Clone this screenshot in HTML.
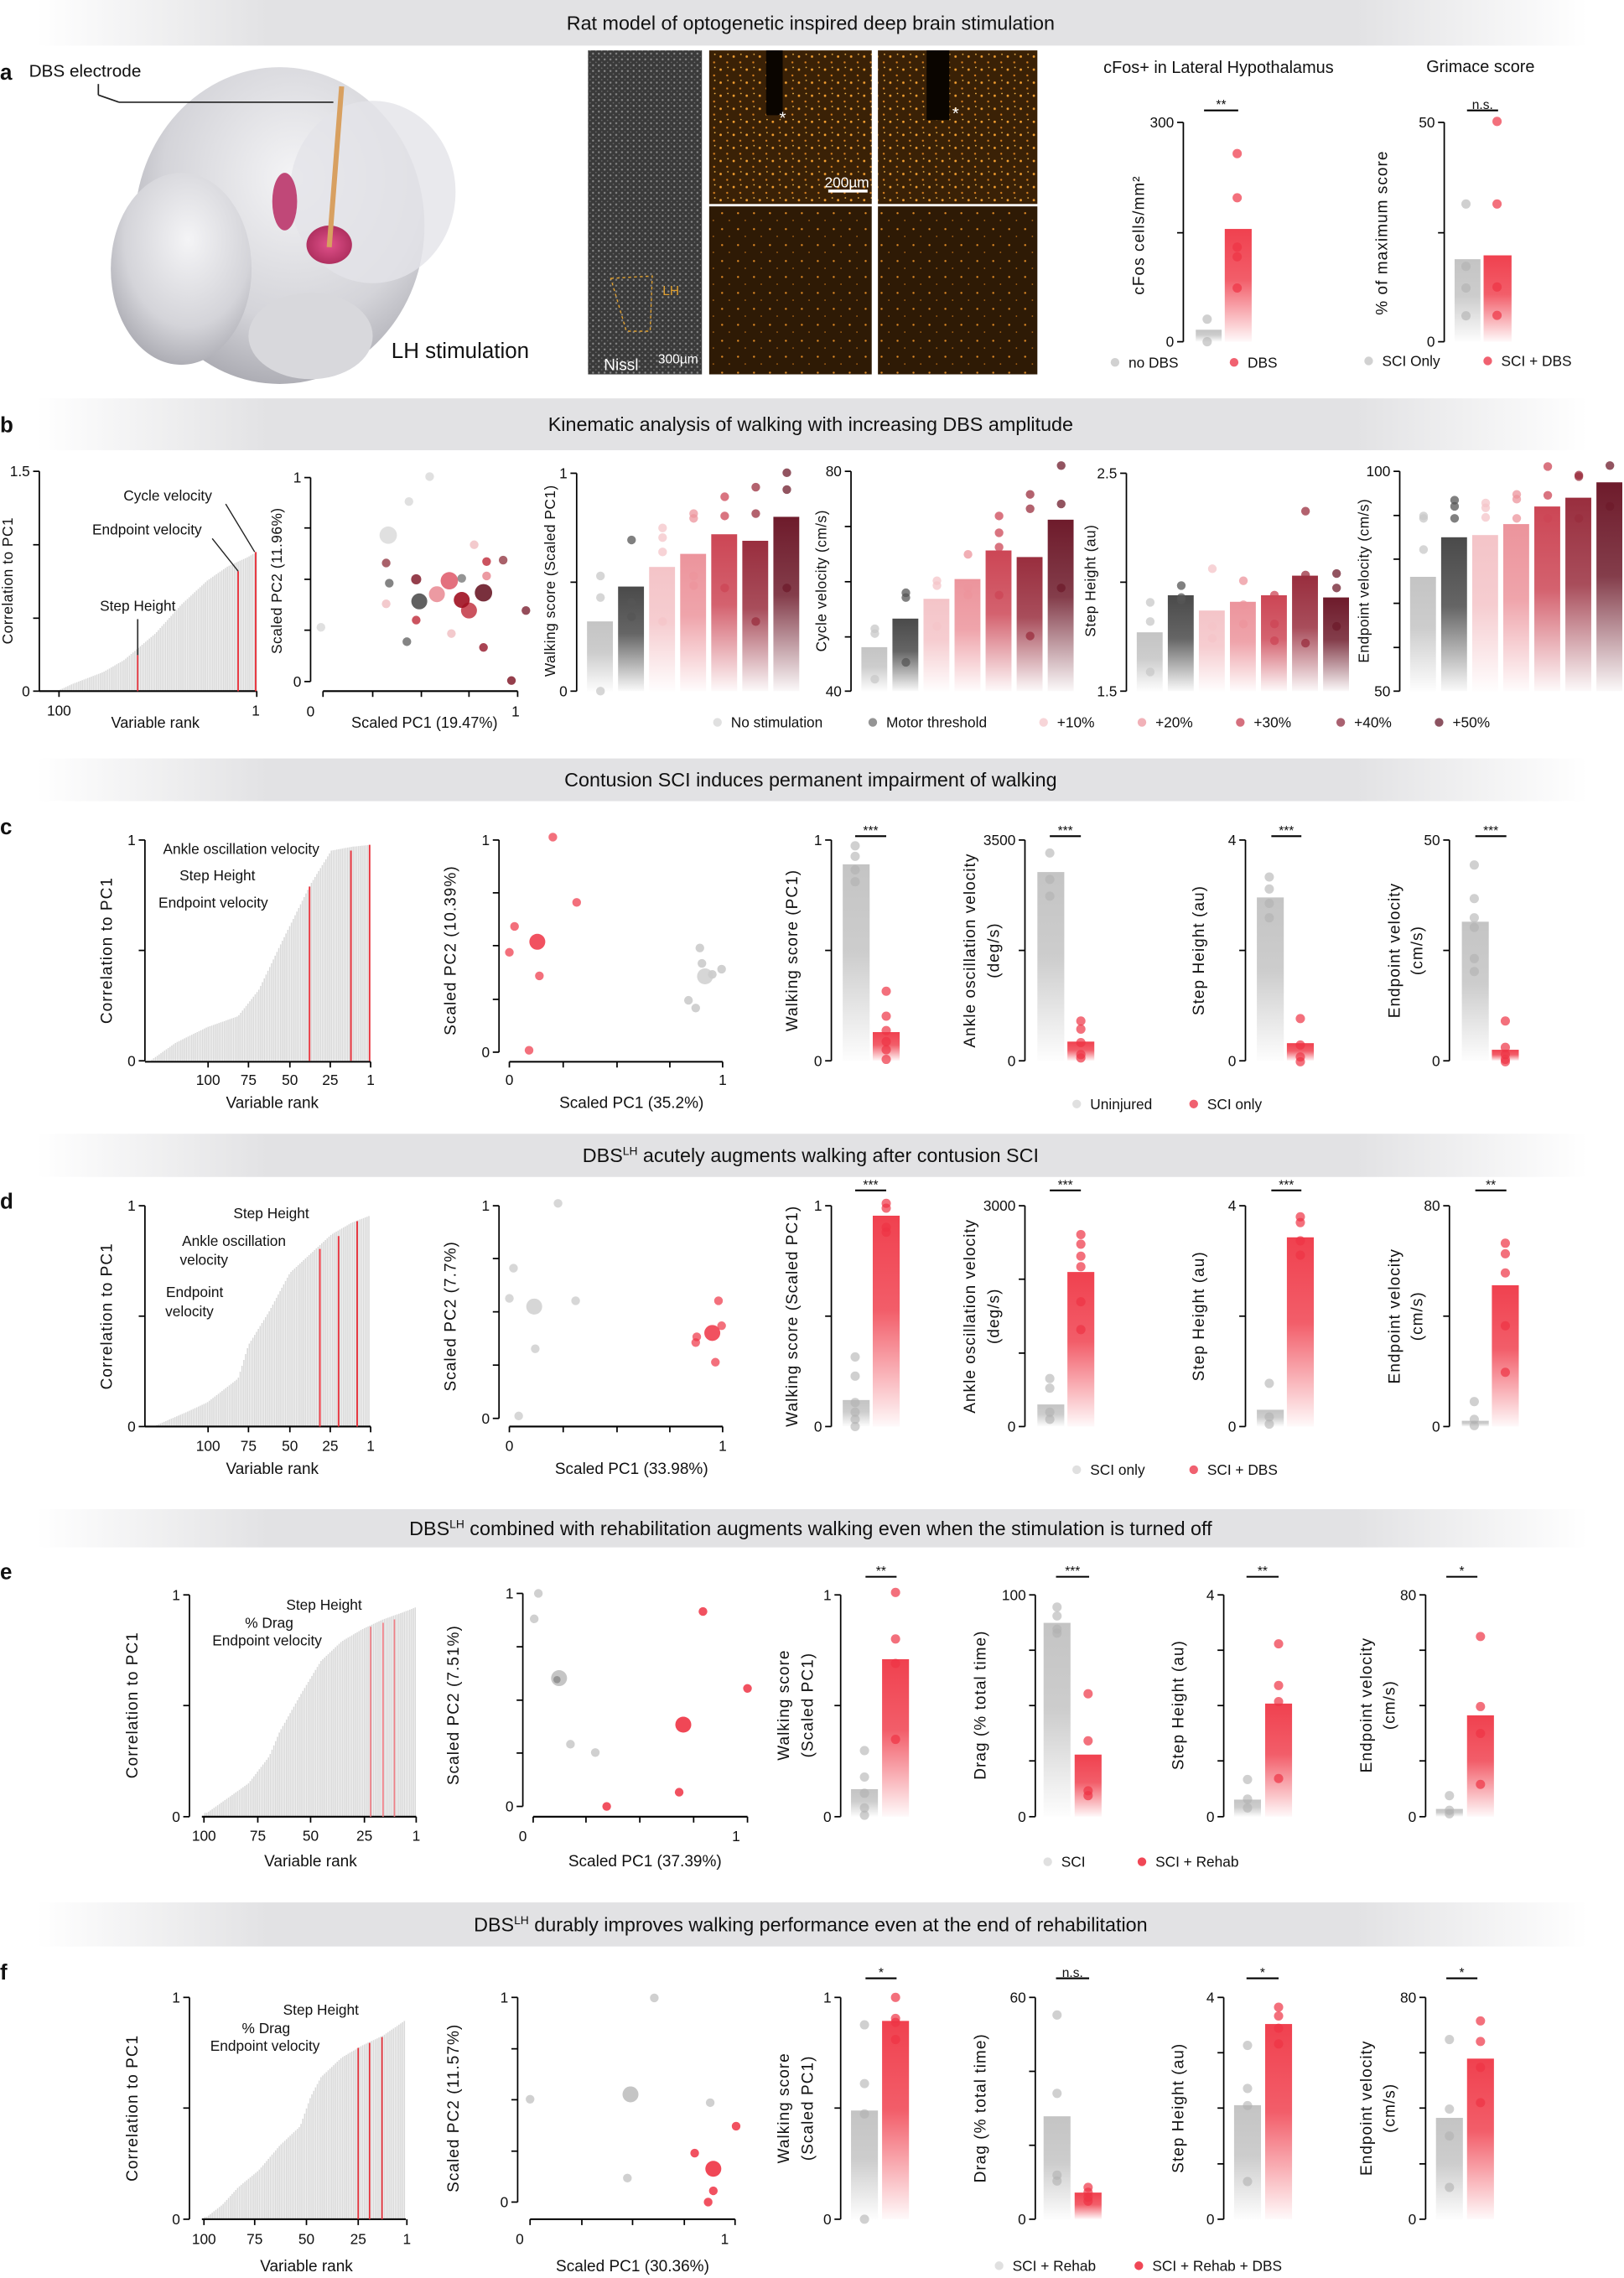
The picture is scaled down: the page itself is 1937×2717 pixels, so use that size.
<!DOCTYPE html>
<html><head><meta charset="utf-8"><style>
html,body{margin:0;padding:0;background:#fff;width:1937px;height:2717px;overflow:hidden}
svg{display:block}
text{font-family:"Liberation Sans",Arial,sans-serif;fill:#111}
</style></head><body>
<svg id="s" width="1937" height="2717" viewBox="0 0 1120 1571" xmlns="http://www.w3.org/2000/svg">
<defs>
<linearGradient id="band" x1="0" x2="1" y1="0" y2="0">
<stop offset="0" stop-color="#e2e2e4" stop-opacity="0"/><stop offset="0.15" stop-color="#e2e2e4"/><stop offset="0.85" stop-color="#e2e2e4"/><stop offset="1" stop-color="#e2e2e4" stop-opacity="0"/></linearGradient>
<radialGradient id="brain" cx="0.55" cy="0.35" r="0.75"><stop offset="0" stop-color="#f4f4f6"/><stop offset="0.6" stop-color="#d4d4d9"/><stop offset="1" stop-color="#9c9ca4"/></radialGradient>
<radialGradient id="pink" cx="0.5" cy="0.5" r="0.5"><stop offset="0" stop-color="#e0508a"/><stop offset="1" stop-color="#b03060"/></radialGradient>
<pattern id="o1" width="9" height="9" patternUnits="userSpaceOnUse"><rect width="9" height="9" fill="#3a2106"/><circle cx="2" cy="3" r="0.8" fill="#f5a030"/><circle cx="6.5" cy="7" r="0.7" fill="#d88020"/><circle cx="7" cy="1.5" r="0.5" fill="#ffc050"/></pattern>
<pattern id="o2" width="11" height="11" patternUnits="userSpaceOnUse"><rect width="11" height="11" fill="#2e1a05"/><circle cx="3" cy="4" r="0.7" fill="#e08a25"/><circle cx="8" cy="9" r="0.5" fill="#c07018"/></pattern>
<pattern id="ni" width="4" height="4" patternUnits="userSpaceOnUse"><rect width="4" height="4" fill="#3a3a3a"/><circle cx="1" cy="1" r="0.7" fill="#8a8a8a"/><circle cx="3" cy="3" r="0.5" fill="#6a6a6a"/></pattern>
</defs>
<g id="g"></g>
</svg>
<script>
const COL={gGray:'#c4c4c4',gDark:'#4a4a4a',gP1:'#f4c4c8',gP2:'#ec949c',gP3:'#cc4655',gP4:'#992e3e',gP5:'#6e1b2b',gRed:'#f0414f'};
let defs='';
for(const k in COL){defs+=`<linearGradient id="${k}" x1="0" x2="0" y1="0" y2="1"><stop offset="0" stop-color="${COL[k]}"/><stop offset="0.45" stop-color="${COL[k]}" stop-opacity="0.85"/><stop offset="1" stop-color="${COL[k]}" stop-opacity="0.03"/></linearGradient>`;}
document.querySelector('defs').insertAdjacentHTML('beforeend',defs);
const S=[null,{oy:0,sy:0.331},{oy:520.4,sy:0.331},{oy:1040.8,sy:0.3377}];
let z=1;
const X=x=>x*0.714, Y=y=>S[z].oy+y*S[z].sy;
let out='';
function raw(s){out+=s}
function line(x1,y1,x2,y2,c,w){out+=`<line x1="${X(x1)}" y1="${Y(y1)}" x2="${X(x2)}" y2="${Y(y2)}" stroke="${c||'#000'}" stroke-width="${w||0.8}"/>`}
function dot(x,y,c,r,op){out+=`<circle cx="${X(x)}" cy="${Y(y)}" r="${r||3.2}" fill="${c}" fill-opacity="${op==null?0.7:op}"/>`}
function bar(x,w,top,bot,g){out+=`<rect x="${X(x)}" y="${Y(top)}" width="${X(w)}" height="${Y(bot)-Y(top)}" fill="url(#${g})"/>`}
function T(x,y,s,o){o=o||{};const fs=o.fs||10.5;const a=o.a||'middle';
 if(o.rot){out+=`<text transform="translate(${X(x)},${Y(y)}) rotate(-90)" text-anchor="middle" font-size="${fs}" letter-spacing="${o.ls==null?0.6:o.ls}" ${o.fill?'style="fill:'+o.fill+'"':''}>${s}</text>`;}
 else out+=`<text x="${X(x)}" y="${Y(y)+fs*0.35}" text-anchor="${a}" font-size="${fs}" ${o.fw?'font-weight="bold"':''} ${o.fill?'style="fill:'+o.fill+'"':''}>${s}</text>`;}
function yaxis(x,t,labs){line(x,t[0],x,t[t.length-1],'#000',1);t.forEach(v=>line(x-6,v,x,v,'#000',1));
 if(labs){labs.forEach(l=>T(x-9,l[0],l[1],{a:'end',fs:10}));}}
function xaxis(y,x0,x1,t){line(x0,y,x1,y,'#000',1.2);t.forEach(v=>line(v,y,v,y+12,'#000',1));}
function interp(p,x){if(x<=p[0][0])return p[0][1];for(let i=1;i<p.length;i++){if(x<=p[i][0]){const f=(x-p[i-1][0])/(p[i][0]-p[i-1][0]);return p[i-1][1]+f*(p[i][1]-p[i-1][1]);}}return p[p.length-1][1];}
function rank(p,x0,x1,bot){for(let xd=X(x0);xd<=X(x1)+0.01;xd+=1.25){const zx=xd/0.714;const yy=interp(p,zx);out+=`<line x1="${xd}" y1="${Y(bot)}" x2="${xd}" y2="${Y(yy)}" stroke="#d9d9d9" stroke-width="0.9"/>`;}}
function band(y0,y1,txt){out+=`<rect x="25" y="${Y(y0)}" width="1070" height="${Y(y1)-Y(y0)}" fill="url(#band)"/>`;T(783,(y0+y1)/2,txt,{fs:13.5});}
function sig(x0,x1,y,s){line(x0,y,x1,y,'#000',1.2);T((x0+x1)/2,y-12,s,{fs:9});}
function legend(y,items){items.forEach(it=>{dot(it[0],y,it[2],3,0.9);T(it[0]+13,y,it[1],{a:'start',fs:10});});}
const GR='#b0b0b0',RD='#ee3344';
function pairBars(bot,range,specs){specs.forEach(s=>{bar(s.x,26,bot-s.g*range,bot,'gGray');bar(s.x+29,26,bot-s.r*range,bot,'gRed');
 s.gd.forEach(v=>dot(s.x+12,v,GR,3.2,0.6));s.rd.forEach(v=>dot(s.x+42,v,RD,3.2,0.7));});}

/* ===== PANEL A ===== */
z=1;
band(0,95,'Rat model of optogenetic inspired deep brain stimulation');
T(0,150,'a',{a:'start',fs:15,fw:1});
T(28,147,'DBS electrode',{a:'start',fs:12});
raw(`<ellipse cx="${X(270)}" cy="${Y(470)}" rx="${X(140)}" ry="${Y(330)}" fill="url(#brain)"/>`);
raw(`<ellipse cx="${X(175)}" cy="${Y(560)}" rx="${X(68)}" ry="${Y(200)}" fill="url(#brain)"/>`);
raw(`<ellipse cx="${X(360)}" cy="${Y(400)}" rx="${X(80)}" ry="${Y(190)}" fill="#e4e4e8" opacity="0.8"/>`);
raw(`<ellipse cx="${X(300)}" cy="${Y(700)}" rx="${X(60)}" ry="${Y(90)}" fill="#d8d8dc"/>`);
raw(`<ellipse cx="${X(275)}" cy="${Y(420)}" rx="${X(12)}" ry="${Y(60)}" fill="#c04878"/>`);
raw(`<ellipse cx="${X(318)}" cy="${Y(510)}" rx="${X(22)}" ry="${Y(40)}" fill="url(#pink)"/>`);
line(95,175,95,198,'#222',1);line(95,198,115,213,'#222',1);line(115,213,322,213,'#222',1);
line(330,180,318,515,'#d8a060',3.5);
T(378,730,'LH stimulation',{a:'start',fs:15});
raw(`<rect x="${X(568)}" y="${Y(105)}" width="${X(110)}" height="${Y(780)-Y(105)}" fill="url(#ni)"/>`);
raw(`<rect x="${X(685)}" y="${Y(105)}" width="${X(157)}" height="${Y(425)-Y(105)}" fill="url(#o1)"/>`);
raw(`<rect x="${X(848)}" y="${Y(105)}" width="${X(154)}" height="${Y(425)-Y(105)}" fill="url(#o1)"/>`);
raw(`<rect x="${X(685)}" y="${Y(430)}" width="${X(157)}" height="${Y(780)-Y(430)}" fill="url(#o2)"/>`);
raw(`<rect x="${X(848)}" y="${Y(430)}" width="${X(154)}" height="${Y(780)-Y(430)}" fill="url(#o2)"/>`);
raw(`<rect x="${X(740)}" y="${Y(105)}" width="${X(16)}" height="${Y(240)-Y(105)}" fill="#0a0500"/>`);
raw(`<rect x="${X(895)}" y="${Y(105)}" width="${X(22)}" height="${Y(250)-Y(105)}" fill="#0a0500"/>`);
T(756,245,'*',{fs:12,fill:'#fff'});T(923,235,'*',{fs:12,fill:'#fff'});
T(818,380,'200µm',{fs:10,fill:'#fff'});line(800,398,838,398,'#fff',2);
T(600,760,'Nissl',{fs:11,fill:'#fff'});T(655,748,'300µm',{fs:9,fill:'#fff'});
T(648,605,'LH',{fs:9,fill:'#e0a030'});
raw(`<path d="M${X(590)},${Y(580)} L${X(630)},${Y(575)} L${X(628)},${Y(690)} L${X(605)},${Y(690)} Z" fill="none" stroke="#e0a030" stroke-width="0.8" stroke-dasharray="2,2"/>`);
T(1177,140,'cFos+ in Lateral Hypothalamus',{fs:11.5});
yaxis(1143,[255,485,712],[[255,'300'],[712,'0']]);
bar(1155,25,687,712,'gGray');bar(1183,26,477,712,'gRed');
[665,712].forEach(v=>dot(1166,v,GR,3.2,0.6));[320,412,515,535,600].forEach(v=>dot(1195,v,RD,3.2,0.7));
sig(1163,1196,230,'**');
T(1105,490,'cFos cells/mm²',{rot:1,fs:11});
legend(755,[[1077,'no DBS','#ccc'],[1192,'DBS','#ee5060']]);
T(1430,138,'Grimace score',{fs:11.5});
yaxis(1395,[255,485,712],[[255,'50'],[712,'0']]);
bar(1405,25,540,712,'gGray');bar(1433,27,532,712,'gRed');
[425,555,600,658].forEach(v=>dot(1416,v,GR,3.2,0.6));[253,425,598,657].forEach(v=>dot(1446,v,RD,3.2,0.7));
sig(1417,1447,230,'n.s.');
T(1340,485,'% of maximum score',{rot:1,fs:11});
legend(752,[[1322,'SCI Only','#ccc'],[1437,'SCI + DBS','#ee5060']]);

/* ===== PANEL B ===== */
band(830,938,'Kinematic analysis of walking with increasing DBS amplitude');
T(0,885,'b',{a:'start',fs:15,fw:1});
rank([[55,1440],[70,1425],[100,1400],[120,1375],[150,1320],[175,1260],[200,1210],[220,1180],[240,1160],[248,1150]],55,248,1440);
yaxis(38,[982,1135,1288,1440],[[982,'1.5'],[1440,'0']]);
xaxis(1440,38,248,[57,248]);
line(133,1290,133,1365,'#333',1);line(133,1365,133,1440,'#e8323c',1);
line(230,1190,230,1440,'#e8323c',1.1);line(247,1150,247,1440,'#e8323c',1.1);
line(218,1050,246,1150,'#222',0.8);line(205,1122,230,1190,'#222',0.8);
T(162,1032,'Cycle velocity',{fs:10});T(142,1103,'Endpoint velocity',{fs:10});T(133,1262,'Step Height',{fs:10});
T(57,1480,'100',{fs:10});T(247,1480,'1',{fs:10});T(150,1505,'Variable rank',{fs:10.5});
T(12,1210,'Correlation to PC1',{rot:1,fs:10,ls:0.3});
yaxis(300,[995,1100,1207,1313,1420],[[995,'1'],[1420,'0']]);
xaxis(1440,312,500,[312,360,407,453,500]);
T(300,1482,'0',{fs:10});T(498,1482,'1',{fs:10});T(410,1505,'Scaled PC1 (19.47%)',{fs:10.5});
T(272,1210,'Scaled PC2 (11.96%)',{rot:1,fs:10,ls:0.3});
[[415,993,3,'#ddd'],[395,1045,3,'#ddd'],[375,1115,6,'#ddd'],[310,1307,3,'#ddd'],[373,1173,3,'#a0505a'],[376,1215,3,'#777'],[373,1258,3,'#f2c4c8'],[402,1207,3.5,'#8a2a38'],[458,1135,3,'#f2c4c8'],[470,1200,3,'#ea8f98'],[470,1170,3,'#c5404e'],[486,1167,3,'#a0505a'],[508,1272,3,'#8a3a48'],[402,1292,3,'#c5404e'],[393,1337,3,'#777'],[436,1320,3,'#f2c4c8'],[446,1205,3,'#888'],[467,1349,3,'#a03040'],[494,1418,3,'#8a2a38'],
 [405,1253,5.5,'#505050'],[422,1238,5.5,'#ea8f98'],[434,1210,6,'#e06070'],[453,1272,5.5,'#c5404e'],[446,1250,5.5,'#a01020'],[467,1235,6,'#6a1a28']].forEach(p=>dot(p[0],p[1],p[3],p[2],0.9));
const BG=['gGray','gDark','gP1','gP2','gP3','gP4','gP5'];
const DC=['#c8c8c8','#555','#f4c4c8','#ec949c','#cc4655','#992e3e','#6e1b2b'];
function bset(ax,top,bot,fr,dots,labs,ticks,ylab,lx){
 const range=bot-top;
 fr.forEach((f,i)=>{const x=ax+10+30*i;bar(x,25,bot-f*range,bot,BG[i]);dots[i].forEach(v=>dot(x+13,v,DC[i],3,0.75));});
 yaxis(ax,ticks,labs);T(lx,1210,ylab,{rot:1,fs:10,ls:0.3});}
bset(557,986,1440,[.32,.48,.57,.63,.72,.69,.80],[[1200,1245,1440],[1125,1255,1285],[1100,1120,1150,1295],[1070,1080,1200,1220],[1035,1075,1225],[1015,1070,1295],[985,1020,1225]],[[986,'1'],[1440,'0']],[986,1213,1440],'Walking score (Scaled PC1)',536);
bset(822,982,1440,[.20,.33,.42,.51,.64,.61,.78],[[1310,1320,1415],[1235,1245,1380],[1210,1220,1305],[1155,1225,1240],[1075,1110,1140,1240],[1030,1060,1325],[970,1050,1225]],[[982,'80'],[1440,'40']],[982,1097,1212,1327,1440],'Cycle velocity (cm/s)',798);
bset(1088,986,1440,[.27,.44,.37,.41,.44,.53,.43],[[1255,1295,1400],[1220,1245,1250],[1185,1305,1330],[1210,1260,1300],[1240,1300,1335],[1065,1198,1340],[1195,1225,1305]],[[986,'2.5'],[1440,'1.5']],[986,1213,1440],'Step Height (au)',1058);
bset(1352,982,1440,[.52,.70,.71,.76,.84,.88,.95],[[1075,1080,1145],[1042,1055,1080],[1048,1058,1078],[1030,1040,1080],[972,1032,1080],[990,993,1080],[970,1055]],[[982,'100'],[1440,'50']],[982,1074,1165,1257,1349,1440],'Endpoint velocity (cm/s)',1322);
legend(1505,[[693,'No stimulation','#ddd'],[843,'Motor threshold','#888'],[1008,'+10%','#f6d0d4'],[1103,'+20%','#f0a8b0'],[1198,'+30%','#d06070'],[1295,'+40%','#a05060'],[1390,'+50%','#804050']]);

/* ===== PANEL C ===== */
z=2;
band(8,97,'Contusion SCI induces permanent impairment of walking');
T(0,150,'c',{a:'start',fs:15,fw:1});
rank([[145,638],[170,600],[200,568],[230,545],[250,490],[270,400],[300,270],[320,200],[340,192],[358,188]],145,358,638);
yaxis(140,[178,408,638],[[178,'1'],[638,'0']]);xaxis(640,140,358,[201,240,280,319,358]);
line(299,275,299,638,'#e8323c',1.1);line(339,200,339,638,'#e8323c',1.1);line(357,188,357,638,'#e8323c',1.1);
T(233,196,'Ankle oscillation velocity',{fs:10});T(210,251,'Step Height',{fs:10});T(206,308,'Endpoint velocity',{fs:10});
[[201,'100'],[240,'75'],[280,'50'],[319,'25'],[358,'1']].forEach(t=>T(t[0],678,t[1],{fs:10}));
T(263,725,'Variable rank',{fs:11});T(108,408,'Correlation to PC1',{rot:1,fs:11});
yaxis(482,[178,288,398,510,620],[[178,'1'],[620,'0']]);xaxis(640,492,698,[492,544,596,647,698]);
T(492,678,'0',{fs:10});T(698,678,'1',{fs:10});T(610,725,'Scaled PC1 (35.2%)',{fs:11});T(440,408,'Scaled PC2 (10.39%)',{rot:1,fs:11});
[[534,172],[557,308],[497,358],[492,412],[521,461],[511,616]].forEach(p=>dot(p[0],p[1],RD,3,0.7));dot(519,390,RD,5.5,0.85);
[[676,403],[678,435],[697,447],[688,458],[665,512],[672,528]].forEach(p=>dot(p[0],p[1],GR,3,0.6));dot(681,462,'#ccc',5.5,0.8);
pairBars(638,460,[
 {x:814,g:.89,r:.13,gd:[190,212,240,265],rd:[493,545,575,598,615,635]},
 {x:1002,g:.855,r:.087,gd:[205,260,295],rd:[555,572,600,625,632]},
 {x:1214,g:.74,r:.08,gd:[255,280,310,340],rd:[550,605,630,640]},
 {x:1412,g:.63,r:.05,gd:[230,300,340,360,425,452],rd:[555,610,625,635,640]}]);
yaxis(803,[178,408,638],[[178,'1'],[638,'0']]);yaxis(990,[178,408,638],[[178,'3500'],[638,'0']]);
yaxis(1203,[178,408,638],[[178,'4'],[638,'0']]);yaxis(1400,[178,408,638],[[178,'50'],[638,'0']]);
sig(826,856,170,'***');sig(1014,1044,170,'***');sig(1228,1257,170,'***');sig(1425,1455,170,'***');
T(770,408,'Walking score (PC1)',{rot:1,fs:11});T(942,408,'Ankle oscillation velocity',{rot:1,fs:11});T(965,408,'(deg/s)',{rot:1,fs:11});
T(1163,408,'Step Height (au)',{rot:1,fs:11});T(1352,408,'Endpoint velocity',{rot:1,fs:11});T(1374,408,'(cm/s)',{rot:1,fs:11});
legend(728,[[1040,'Uninjured','#ddd'],[1153,'SCI only','#ee5060']]);

/* ===== PANEL D ===== */
band(790,880,'DBS<tspan dy="-5" font-size="8">LH</tspan><tspan dy="5"> acutely augments walking after contusion SCI</tspan>');
T(0,930,'d',{a:'start',fs:15,fw:1});
rank([[148,1400],[180,1370],[200,1350],[230,1300],[240,1230],[260,1160],[280,1080],[300,1040],[320,1000],[340,975],[358,960]],148,358,1400);
yaxis(140,[940,1170,1400],[[940,'1'],[1400,'0']]);xaxis(1400,140,358,[201,240,280,319,358]);
line(309,1030,309,1400,'#e8323c',1.1);line(327,1003,327,1400,'#e8323c',1.1);line(345,972,345,1400,'#e8323c',1.1);
T(262,955,'Step Height',{fs:10});T(226,1013,'Ankle oscillation',{fs:10});T(197,1052,'velocity',{fs:10});T(188,1120,'Endpoint',{fs:10});T(183,1160,'velocity',{fs:10});
[[201,'100'],[240,'75'],[280,'50'],[319,'25'],[358,'1']].forEach(t=>T(t[0],1440,t[1],{fs:10}));
T(263,1487,'Variable rank',{fs:11});T(108,1170,'Correlation to PC1',{rot:1,fs:11});
yaxis(482,[940,1050,1161,1272,1383],[[940,'1'],[1383,'0']]);xaxis(1400,492,698,[492,544,596,647,698]);
T(492,1440,'0',{fs:10});T(698,1440,'1',{fs:10});T(610,1487,'Scaled PC1 (33.98%)',{fs:11});T(440,1170,'Scaled PC2 (7.7%)',{rot:1,fs:11});
[[539,935],[496,1070],[492,1133],[556,1138],[517,1238],[501,1378]].forEach(p=>dot(p[0],p[1],GR,3,0.5));dot(516,1150,'#ccc',5.5,0.8);
[[694,1138],[697,1190],[673,1213],[672,1225],[691,1266]].forEach(p=>dot(p[0],p[1],RD,3,0.7));dot(688,1205,RD,5.5,0.85);
pairBars(1400,460,[
 {x:814,g:.12,r:.955,gd:[1255,1295,1350,1370,1385,1400],rd:[935,945,985,995]},
 {x:1002,g:.10,r:.70,gd:[1300,1320,1370,1385],rd:[1000,1020,1045,1067,1140,1198]},
 {x:1214,g:.076,r:.857,gd:[1310,1380,1395],rd:[963,975,1013,1043]},
 {x:1412,g:.026,r:.64,gd:[1348,1385,1398],rd:[1018,1040,1080,1190,1287]}]);
yaxis(803,[940,1170,1400],[[940,'1'],[1400,'0']]);yaxis(990,[940,1093,1247,1400],[[940,'3000'],[1400,'0']]);
yaxis(1203,[940,1170,1400],[[940,'4'],[1400,'0']]);yaxis(1400,[940,1170,1400],[[940,'80'],[1400,'0']]);
sig(826,856,908,'***');sig(1014,1044,908,'***');sig(1228,1257,908,'***');sig(1425,1455,908,'**');
T(770,1170,'Walking score (Scaled PC1)',{rot:1,fs:11});T(942,1170,'Ankle oscillation velocity',{rot:1,fs:11});T(965,1170,'(deg/s)',{rot:1,fs:11});
T(1163,1170,'Step Height (au)',{rot:1,fs:11});T(1352,1170,'Endpoint velocity',{rot:1,fs:11});T(1374,1170,'(cm/s)',{rot:1,fs:11});
legend(1490,[[1040,'SCI only','#ddd'],[1153,'SCI + DBS','#ee5060']]);

/* ===== PANEL E ===== */
z=3;
band(0,78,'DBS<tspan dy="-5" font-size="8">LH</tspan><tspan dy="5"> combined with rehabilitation augments walking even when the stimulation is turned off</tspan>');
T(0,127,'e',{a:'start',fs:15,fw:1});
rank([[200,620],[220,590],[240,560],[260,505],[270,455],[290,380],[310,310],[330,270],[350,245],[370,225],[390,210],[402,200]],198,402,628);
yaxis(183,[175,401,628],[[175,'1'],[628,'0']]);xaxis(628,195,402,[197,249,300,352,402]);
line(358,240,358,628,'#f08088',1);line(370,232,370,628,'#f08088',1);line(381,225,381,628,'#f08088',1);
T(313,195,'Step Height',{fs:10});T(260,232,'% Drag',{fs:10});T(258,268,'Endpoint velocity',{fs:10});
[[197,'100'],[249,'75'],[300,'50'],[352,'25'],[402,'1']].forEach(t=>T(t[0],667,t[1],{fs:10}));
T(300,718,'Variable rank',{fs:11});T(133,400,'Correlation to PC1',{rot:1,fs:11});
yaxis(505,[172,281,390,498,607],[[172,'1'],[607,'0']]);xaxis(628,515,722,[515,566,618,670,722]);
T(505,668,'0',{fs:10});T(711,668,'1',{fs:10});T(623,718,'Scaled PC1 (37.39%)',{fs:11});T(443,400,'Scaled PC2 (7.51%)',{rot:1,fs:11});
[[520,172],[516,224],[551,480],[575,497]].forEach(p=>dot(p[0],p[1],GR,3,0.6));dot(540,345,'#bbb',5.5,0.85);dot(538,348,'#888',2.5,0.8);
[[679,209],[722,366],[656,578],[586,607]].forEach(p=>dot(p[0],p[1],RD,3,0.85));dot(660,440,RD,5.5,0.9);
function pb2(bot,range,specs){specs.forEach(s=>{bar(s.x,26,bot-s.g*range,bot,'gGray');bar(s.x+30,26,bot-s.r*range,bot,'gRed');
 s.gd.forEach(v=>dot(s.x+13,v,GR,3.2,0.6));s.rd.forEach(v=>dot(s.x+43,v,RD,3.2,0.7));});}
pb2(628,453,[
 {x:822,g:.124,r:.71,gd:[493,547,580,610,625],rd:[170,265,315,470]},
 {x:1008,g:.874,r:.28,gd:[200,218,245,253],rd:[377,473,575,585]},
 {x:1192,g:.077,r:.51,gd:[552,592,610],rd:[275,360,393,550]},
 {x:1387,g:.035,r:.457,gd:[585,615,622],rd:[260,403,458,562]}]);
yaxis(812,[175,401,628],[[175,'1'],[628,'0']]);yaxis(1000,[175,288,401,514,628],[[175,'100'],[628,'0']]);
yaxis(1182,[175,288,401,514,628],[[175,'4'],[628,'0']]);yaxis(1377,[175,288,401,514,628],[[175,'80'],[628,'0']]);
sig(836,866,138,'**');sig(1020,1052,138,'***');sig(1204,1235,138,'**');sig(1397,1427,138,'*');
T(762,400,'Walking score',{rot:1,fs:11});T(785,400,'(Scaled PC1)',{rot:1,fs:11});T(952,400,'Drag (% total time)',{rot:1,fs:11});
T(1143,400,'Step Height (au)',{rot:1,fs:11});T(1325,400,'Endpoint velocity',{rot:1,fs:11});T(1347,400,'(cm/s)',{rot:1,fs:11});
legend(720,[[1012,'SCI','#ddd'],[1103,'SCI + Rehab','#ee3344']]);

/* ===== PANEL F ===== */
band(803,893,'DBS<tspan dy="-5" font-size="8">LH</tspan><tspan dy="5"> durably improves walking performance even at the end of rehabilitation</tspan>');
T(0,945,'f',{a:'start',fs:15,fw:1});
rank([[200,1445],[215,1420],[230,1385],[250,1350],[270,1300],[290,1260],[300,1200],[310,1160],[330,1120],[350,1095],[370,1075],[392,1043]],198,392,1450);
yaxis(183,[997,1223,1450],[[997,'1'],[1450,'0']]);xaxis(1450,195,392,[197,246,296,346,393]);
line(346,1100,346,1450,'#e8323c',1);line(357,1090,357,1450,'#e8323c',1);line(369,1078,369,1450,'#e8323c',1);
T(310,1022,'Step Height',{fs:10});T(257,1060,'% Drag',{fs:10});T(256,1096,'Endpoint velocity',{fs:10});
[[197,'100'],[246,'75'],[296,'50'],[346,'25'],[393,'1']].forEach(t=>T(t[0],1490,t[1],{fs:10}));
T(296,1545,'Variable rank',{fs:11});T(133,1223,'Correlation to PC1',{rot:1,fs:11});
yaxis(500,[997,1102,1206,1311,1415],[[997,'1'],[1415,'0']]);xaxis(1450,512,710,[512,562,611,661,710]);
T(502,1490,'0',{fs:10});T(700,1490,'1',{fs:10});T(611,1545,'Scaled PC1 (30.36%)',{fs:11});T(443,1223,'Scaled PC2 (11.57%)',{rot:1,fs:11});
[[632,998],[512,1205],[686,1212],[606,1366]].forEach(p=>dot(p[0],p[1],GR,3,0.6));dot(609,1195,'#bbb',5.5,0.85);
[[711,1260],[671,1315],[689,1392],[684,1415]].forEach(p=>dot(p[0],p[1],RD,3,0.85));dot(689,1347,RD,5.5,0.9);
pb2(1450,453,[
 {x:822,g:.49,r:.894,gd:[1053,1173,1235,1450],rd:[997,1040,1048,1083]},
 {x:1008,g:.464,r:.12,gd:[1033,1193,1360,1372],rd:[1385,1395,1405,1413]},
 {x:1192,g:.514,r:.88,gd:[1095,1183,1218,1373],rd:[1017,1035,1060,1092]},
 {x:1387,g:.457,r:.724,gd:[1083,1225,1280,1385],rd:[1045,1087,1140,1212]}]);
yaxis(812,[997,1223,1450],[[997,'1'],[1450,'0']]);yaxis(1000,[997,1148,1299,1450],[[997,'60'],[1450,'0']]);
yaxis(1182,[997,1110,1223,1337,1450],[[997,'4'],[1450,'0']]);yaxis(1377,[997,1110,1223,1337,1450],[[997,'80'],[1450,'0']]);
sig(836,866,958,'*');sig(1020,1052,958,'n.s.');sig(1204,1235,958,'*');sig(1397,1427,958,'*');
T(762,1223,'Walking score',{rot:1,fs:11});T(785,1223,'(Scaled PC1)',{rot:1,fs:11});T(952,1223,'Drag (% total time)',{rot:1,fs:11});
T(1143,1223,'Step Height (au)',{rot:1,fs:11});T(1325,1223,'Endpoint velocity',{rot:1,fs:11});T(1347,1223,'(cm/s)',{rot:1,fs:11});
legend(1545,[[965,'SCI + Rehab','#ddd'],[1100,'SCI + Rehab + DBS','#ee3344']]);

document.getElementById('g').innerHTML=out;
</script>
</body></html>
